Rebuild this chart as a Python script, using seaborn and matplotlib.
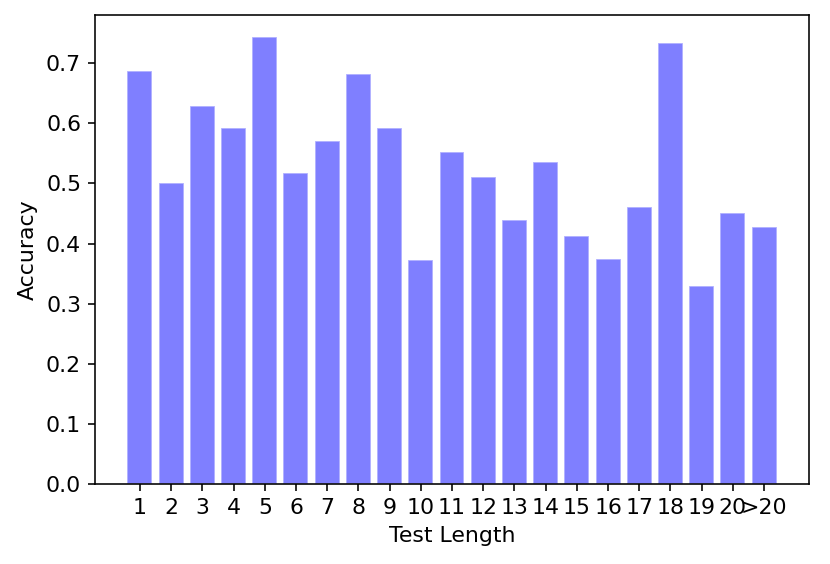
import numpy as np
import pandas as pd
import seaborn as sns
import matplotlib
matplotlib.use("Agg")
import matplotlib.pyplot as plt

# test length buckets and accuracy
lengths = [str(i) for i in range(1, 21)] + [">20"]
accuracy = [0.687, 0.500, 0.629, 0.593, 0.743, 0.518, 0.571, 0.682, 0.592, 0.372,
            0.552, 0.510, 0.439, 0.535, 0.413, 0.375, 0.460, 0.733, 0.330, 0.450,
            0.427]

def main():
    df = pd.DataFrame({"Test Length": lengths, "Accuracy": accuracy})

    fig = plt.figure(figsize=(830 / 144, 564 / 144), dpi=144)
    ax = fig.add_axes([95 / 830, 1 - 484 / 564, 714 / 830, 469 / 564])

    sns.barplot(data=df, x="Test Length", y="Accuracy", order=lengths,
                color="blue", saturation=1, alpha=0.5, edgecolor="white",
                linewidth=0.8, width=0.8, errorbar=None, ax=ax)

    n = len(lengths)
    pad = 0.05 * (n - 1 + 0.8)
    ax.set_xlim(-0.4 - pad, n - 1 + 0.4 + pad)
    ax.set_ylim(0, max(accuracy) * 1.05)
    ax.set_xlabel("Test Length", fontsize=11)
    ax.set_ylabel("Accuracy", fontsize=11)
    ax.tick_params(labelsize=11)

    fig.savefig("out.png", dpi=144)

if __name__ == "__main__":
    main()
